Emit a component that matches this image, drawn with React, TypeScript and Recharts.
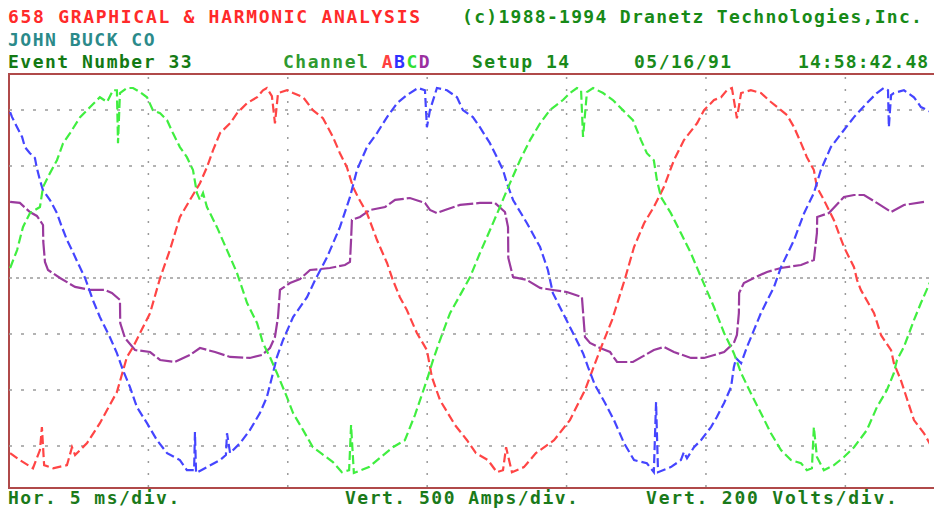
import React from "react";
import { LineChart, Line, XAxis, YAxis, ReferenceLine } from "recharts";

// Dranetz 658 waveform capture.
// Each trace is [time in ms, value]; A/B/C in volts, D in amps.
const phaseA: [number, number][] = [
  [0.04, -625], [0.39, -650], [0.86, -679], [1.11, -614], [1.18, -532], [1.26, -668],
  [1.58, -679], [2.08, -668], [2.26, -604], [2.37, -632], [2.8, -589], [3.26, -518],
  [3.87, -407], [4.23, -282], [4.45, -246], [5.06, -125], [5.42, 0], [5.77, 100],
  [6.13, 218], [6.49, 279], [6.85, 339], [7.1, 396], [7.32, 457], [7.57, 518],
  [7.93, 553], [8.18, 589], [8.54, 625], [8.9, 646], [9.11, 671], [9.25, 679],
  [9.43, 650], [9.54, 553], [9.65, 661], [9.97, 671], [10.19, 661], [10.55, 646],
  [10.9, 600], [11.26, 571], [11.62, 504], [11.87, 446], [12.12, 396], [12.34, 325],
  [12.52, 289], [12.84, 232], [13.2, 136], [13.56, 54], [13.77, -7], [14.02, -68],
  [14.27, -114], [14.63, -196], [14.99, -257], [15.17, -354], [15.46, -436], [16.0, -525],
  [16.43, -579], [16.75, -625], [17.18, -650], [17.5, -693], [17.72, -686], [17.83, -604],
  [18.04, -693], [18.47, -675], [18.9, -625], [19.55, -579], [20.12, -507], [20.66, -400],
  [21.2, -257], [21.63, -150], [22.09, -4], [22.42, 111], [22.78, 196], [23.13, 254],
  [23.49, 325], [23.85, 421], [24.21, 493], [24.68, 553], [24.93, 600], [25.29, 636],
  [25.54, 646], [25.75, 671], [25.93, 679], [26.11, 571], [26.26, 661], [26.61, 671],
  [26.97, 661], [27.33, 629], [27.69, 600], [27.91, 582], [28.16, 539], [28.41, 482],
  [28.62, 432], [28.87, 386], [28.98, 325], [29.23, 279], [29.59, 207], [29.95, 111],
  [30.31, 39], [30.42, -7], [30.56, -43], [31.03, -125], [31.28, -204], [31.64, -257],
  [31.74, -304], [31.99, -364], [32.46, -507], [32.82, -554], [33.1, -604],
];

const phaseB: [number, number][] = [
  [0.04, 593], [0.11, 575], [0.29, 539], [0.47, 504], [0.57, 468], [0.75, 446],
  [0.93, 429], [1.0, 393], [1.11, 350], [1.22, 314], [1.47, 279], [1.72, 232],
  [1.9, 182], [2.08, 136], [2.26, 100], [2.47, 54], [2.73, 0], [3.01, -79],
  [3.26, -139], [3.62, -211], [3.87, -268], [4.09, -329], [4.34, -389], [4.59, -461],
  [4.95, -518], [5.31, -579], [5.67, -625], [6.13, -650], [6.38, -686], [6.64, -686],
  [6.67, -550], [6.71, -696], [7.1, -675], [7.57, -650], [7.78, -632], [7.82, -554],
  [7.93, -625], [8.29, -589], [8.64, -543], [9.0, -482], [9.25, -425], [9.47, -339],
  [9.61, -282], [9.83, -221], [10.19, -139], [10.69, -68], [10.98, -7], [11.41, 75],
  [11.87, 182], [12.23, 289], [12.48, 386], [12.84, 468], [13.2, 518], [13.56, 575],
  [13.92, 625], [14.28, 654], [14.67, 679], [14.92, 671], [14.99, 539], [15.1, 600],
  [15.35, 679], [15.71, 671], [16.07, 646], [16.28, 600], [16.64, 575], [16.89, 539],
  [17.25, 482], [17.5, 432], [17.72, 386], [17.86, 339], [18.08, 279], [18.58, 196],
  [19.05, 111], [19.33, 29], [19.51, -54], [19.87, -125], [20.23, -196], [20.59, -268],
  [20.77, -318], [21.02, -382], [21.38, -446], [21.7, -507], [22.06, -589], [22.42, -650],
  [22.88, -661], [23.13, -693], [23.21, -443], [23.28, -693], [23.74, -675], [24.1, -650],
  [24.21, -621], [24.32, -643], [24.57, -604], [24.82, -579], [25.18, -532], [25.39, -496],
  [25.65, -446], [25.9, -389], [26.0, -318], [26.08, -286], [26.26, -304], [26.47, -246],
  [26.72, -186], [26.97, -125], [27.15, -89], [27.44, -32], [27.69, 39], [28.16, 136],
  [28.52, 232], [28.87, 304], [29.12, 386], [29.48, 468], [29.95, 529], [30.31, 575],
  [30.77, 625], [31.13, 661], [31.38, 679], [31.53, 671], [31.56, 539], [31.64, 654],
  [31.74, 661], [32.1, 671], [32.46, 646], [32.71, 611], [33.07, 593],
];

const phaseC: [number, number][] = [
  [0.04, 36], [0.11, 54], [0.29, 100], [0.5, 182], [0.75, 232], [1.11, 254],
  [1.22, 325], [1.47, 375], [1.72, 421], [1.94, 482], [2.19, 518], [2.55, 575],
  [2.91, 611], [3.26, 646], [3.52, 629], [3.73, 671], [3.87, 671], [3.91, 482],
  [3.98, 661], [4.23, 679], [4.45, 679], [4.7, 664], [4.95, 646], [5.16, 600],
  [5.42, 589], [5.67, 564], [5.88, 518], [6.13, 468], [6.38, 432], [6.6, 386],
  [6.74, 304], [6.85, 279], [6.96, 304], [7.1, 254], [7.46, 182], [7.82, 100],
  [8.18, 18], [8.54, -89], [8.9, -161], [9.11, -232], [9.36, -282], [9.61, -339],
  [9.97, -425], [10.19, -482], [10.55, -543], [10.9, -604], [11.19, -625], [11.62, -657],
  [11.94, -693], [12.2, -686], [12.27, -525], [12.37, -696], [12.91, -675], [13.34, -639],
  [13.77, -604], [14.2, -579], [14.56, -489], [14.99, -364], [15.21, -293], [15.46, -221],
  [15.82, -125], [16.28, -43], [16.54, 4], [16.89, 89], [17.25, 171], [17.61, 254],
  [17.86, 314], [18.33, 421], [18.69, 493], [19.05, 553], [19.4, 600], [19.87, 636],
  [20.12, 661], [20.37, 679], [20.52, 671], [20.59, 504], [20.73, 664], [20.95, 679],
  [21.31, 661], [21.66, 636], [22.02, 600], [22.38, 564], [22.67, 493], [22.88, 446],
  [23.13, 421], [23.24, 350], [23.39, 289], [23.74, 232], [24.1, 161], [24.46, 89],
  [24.82, 4], [25.29, -104], [25.65, -196], [26.0, -268], [26.26, -339], [26.61, -411],
  [26.97, -482], [27.33, -554], [27.69, -614], [28.05, -650], [28.41, -661], [28.62, -686],
  [28.8, -679], [28.87, -532], [28.98, -639], [29.23, -686], [29.59, -668], [29.95, -639],
  [30.31, -604], [30.77, -543], [31.13, -461], [31.49, -400], [31.74, -339], [31.85, -293],
  [32.1, -246], [32.46, -150], [32.71, -89], [33.07, -7],
];

const currentD: [number, number][] = [
  [0.04, 679], [0.39, 670], [0.75, 589], [1.0, 554], [1.22, 473], [1.23, 322],
  [1.29, 143], [1.4, 71], [1.83, 0], [2.37, -80], [2.91, -107], [3.44, -107],
  [3.69, -134], [3.98, -196], [3.99, -402], [4.16, -536], [4.52, -643], [5.06, -661],
  [5.42, -732], [5.95, -750], [6.49, -688], [6.85, -625], [7.39, -661], [7.93, -705],
  [8.64, -714], [9.07, -688], [9.36, -625], [9.54, -527], [9.65, -348], [9.72, -107],
  [10.08, -45], [10.44, -9], [10.8, 71], [11.51, 89], [12.05, 116], [12.23, 143],
  [12.27, 339], [12.3, 518], [12.59, 545], [12.95, 607], [13.49, 634], [13.85, 697],
  [14.38, 714], [14.92, 670], [15.1, 607], [15.35, 580], [15.64, 607], [16.18, 652],
  [16.89, 670], [17.43, 670], [17.79, 589], [17.9, 455], [17.91, 179], [18.08, 9],
  [18.58, -18], [19.05, -89], [19.51, -107], [20.01, -125], [20.55, -170], [20.66, -527],
  [20.84, -580], [21.2, -625], [21.56, -661], [21.81, -750], [22.38, -750], [23.13, -643],
  [23.49, -616], [23.85, -661], [24.46, -714], [24.93, -714], [25.65, -661], [26.0, -580],
  [26.11, -509], [26.18, -313], [26.19, -134], [26.36, -45], [26.72, 0], [27.19, 54],
  [27.69, 89], [28.41, 116], [28.87, 161], [28.98, 402], [28.99, 545], [29.41, 580],
  [29.95, 723], [30.31, 741], [30.67, 741], [31.13, 670], [31.64, 589], [32.1, 652],
  [32.82, 679],
];

// 5 ms/div, 200 V/div, 500 A/div
const timeDivs = [5, 10, 15, 20, 25, 30];
const voltDivs = [-600, -400, -200, 400, 600];
const timeDomain: [number, number] = [0, 33];
const voltDomain: [number, number] = [-746, 729];
const ampDomain: [number, number] = [-1866, 1821];

const toRows = (pts: [number, number][]) => pts.map(([t, v]) => ({ t, v }));

const FONT = "'DejaVu Sans Mono', monospace";

function Label({ x, y, color, spacing = 1.5, children }: { x: number; y: number; color: string; spacing?: number; children: React.ReactNode }) {
  return (
    <div
      style={{
        position: "absolute",
        left: x,
        top: y,
        color,
        fontFamily: FONT,
        fontSize: 18,
        fontWeight: "bold",
        letterSpacing: spacing,
        lineHeight: "18px",
        whiteSpace: "pre",
      }}
    >
      {children}
    </div>
  );
}

export default function App() {
  return (
    <div style={{ position: "absolute", left: 0, top: 0, width: 934, height: 512, background: "#fff", overflow: "hidden" }}>
      <Label x={8} y={8} color="#ff2a2a" spacing={1.7}>658 GRAPHICAL &amp; HARMONIC ANALYSIS</Label>
      <Label x={462} y={8} color="#178a17" spacing={1.3}>(c)1988-1994 Dranetz Technologies,Inc.</Label>
      <Label x={8} y={31} color="#2b8a8a">JOHN BUCK CO</Label>
      <Label x={8} y={53} color="#147a14">Event Number 33</Label>
      <Label x={283} y={53} color="#2f9a2f">
        Channel <span style={{ color: "#ff4040" }}>A</span>
        <span style={{ color: "#3030ff" }}>B</span>
        <span style={{ color: "#30e030" }}>C</span>
        <span style={{ color: "#9a30a0" }}>D</span>
      </Label>
      <Label x={472} y={53} color="#1a8a1a">Setup 14</Label>
      <Label x={634} y={53} color="#1a8a1a">05/16/91</Label>
      <Label x={798} y={53} color="#1a8a1a" spacing={1.1}>14:58:42.48</Label>
      <Label x={8} y={489} color="#1a7a1a">Hor. 5 ms/div.</Label>
      <Label x={345} y={489} color="#1a7a1a">Vert. 500 Amps/div.</Label>
      <Label x={646} y={489} color="#1a7a1a" spacing={1.8}>Vert. 200 Volts/div.</Label>

      <div
        style={{
          position: "absolute",
          left: 8,
          top: 73,
          width: 926,
          height: 412,
          borderTop: "2px solid #b04a4a",
          borderLeft: "2px solid #b04a4a",
          borderBottom: "2px solid #b04a4a",
        }}
      />

      <div style={{ position: "absolute", left: 0, top: 0 }}>
        <LineChart width={934} height={512} margin={{ top: 74, right: 5, bottom: 25, left: 9 }}>
          <XAxis dataKey="t" type="number" domain={timeDomain} allowDataOverflow hide />
          <YAxis yAxisId="v" type="number" domain={voltDomain} allowDataOverflow hide />
          <YAxis yAxisId="a" type="number" domain={ampDomain} allowDataOverflow hide />

          {timeDivs.map((t) => (
            <ReferenceLine key={`t${t}`} x={t} yAxisId="v" stroke="#9a9a9a" strokeWidth={1.5} strokeDasharray="2 10" />
          ))}
          {voltDivs.map((v) => (
            <ReferenceLine key={`v${v}`} y={v} yAxisId="v" stroke="#9a9a9a" strokeWidth={1.5} strokeDasharray="3 9" />
          ))}
          <ReferenceLine y={0} yAxisId="v" stroke="#9a9a9a" strokeWidth={1.5} strokeDasharray="3 4" />

          <Line data={toRows(currentD)} dataKey="v" yAxisId="a" type="linear" stroke="#9a3a9e" strokeWidth={2.2} strokeDasharray="16 3" dot={false} isAnimationActive={false} />
          <Line data={toRows(phaseA)} dataKey="v" yAxisId="v" type="linear" stroke="#ff4545" strokeWidth={2.2} strokeDasharray="9 4" dot={false} isAnimationActive={false} />
          <Line data={toRows(phaseB)} dataKey="v" yAxisId="v" type="linear" stroke="#4545ff" strokeWidth={2.2} strokeDasharray="9 4" dot={false} isAnimationActive={false} />
          <Line data={toRows(phaseC)} dataKey="v" yAxisId="v" type="linear" stroke="#40ee40" strokeWidth={2.2} strokeDasharray="9 4" dot={false} isAnimationActive={false} />
        </LineChart>
      </div>
    </div>
  );
}
